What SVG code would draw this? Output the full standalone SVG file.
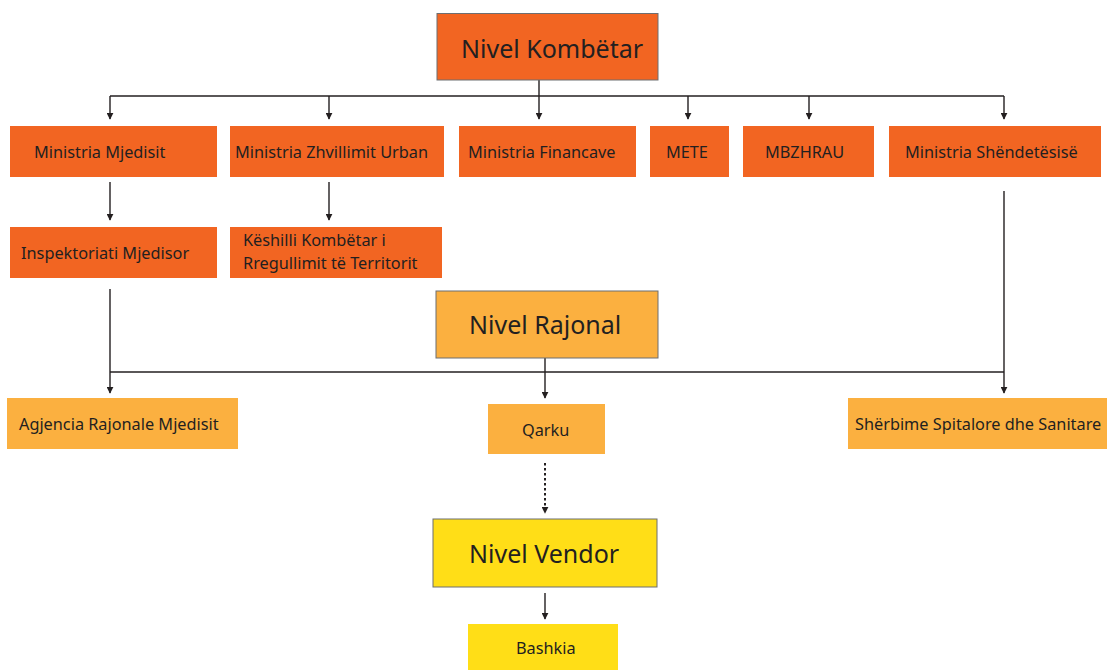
<svg xmlns="http://www.w3.org/2000/svg" width="1107" height="670" viewBox="0 0 1107 670">
<defs>
<marker id="ah" viewBox="0 0 10 10" refX="9" refY="5" markerWidth="7" markerHeight="7" markerUnits="userSpaceOnUse" orient="auto">
<path d="M0,0 L10,5 L0,10 z" fill="#231f20"/>
</marker>
<style>
.lvl{stroke:#6d6e71;stroke-width:1}
.o{fill:#f26522}
.lo{fill:#fbb040}
.y{fill:#ffde17}
.t{font-family:"Noto Sans","Open Sans",sans-serif;fill:#231f20;font-size:16.3px}
.big{font-family:"Noto Sans","Open Sans",sans-serif;fill:#231f20;font-size:25px}
.ln{stroke:#231f20;stroke-width:1.4;fill:none}
.ar{stroke:#231f20;stroke-width:1.4;fill:none;marker-end:url(#ah)}
.dot{stroke-dasharray:2.5,2.5;stroke-width:2}
</style>
</defs>
<rect width="1107" height="670" fill="#ffffff"/>
<g id="connectors">
<path class="ln" d="M110,96 H1004"/>
<path class="ar" d="M539,80 V119"/>
<path class="ar" d="M110,96 V119"/>
<path class="ar" d="M329,96 V119"/>
<path class="ar" d="M688,96 V119"/>
<path class="ar" d="M809,96 V119"/>
<path class="ar" d="M1004,96 V119"/>
<path class="ar" d="M110,182 V220"/>
<path class="ar" d="M329,182 V220"/>
<path class="ln" d="M110,372 H1004"/>
<path class="ar" d="M110,289 V393"/>
<path class="ar" d="M1004,191 V393"/>
<path class="ar" d="M545,358 V398"/>
<path class="ar dot" d="M545,463 V513"/>
<path class="ar" d="M545,593 V619"/>
</g>
<g id="nivel-kombetar"><rect class="o lvl" x="437" y="13.5" width="221" height="66.5"/><text class="big" x="461" y="58">Nivel Kombëtar</text></g>
<g id="ministria-mjedisit"><rect class="o" x="10" y="126" width="207" height="51"/><text class="t" x="34" y="158">Ministria Mjedisit</text></g>
<g id="ministria-zhvillimit"><rect class="o" x="230" y="126" width="214" height="51"/><text class="t" x="235" y="158">Ministria Zhvillimit Urban</text></g>
<g id="ministria-financave"><rect class="o" x="459" y="126" width="177" height="51"/><text class="t" x="468" y="158">Ministria Financave</text></g>
<g id="mete"><rect class="o" x="650" y="126" width="79" height="51"/><text class="t" x="666" y="158">METE</text></g>
<g id="mbzhrau"><rect class="o" x="743" y="126" width="131" height="51"/><text class="t" x="765" y="158">MBZHRAU</text></g>
<g id="ministria-shendetesise"><rect class="o" x="889" y="126" width="212" height="51"/><text class="t" x="905" y="158">Ministria Shëndetësisë</text></g>
<g id="inspektoriati"><rect class="o" x="10" y="227" width="207" height="51"/><text class="t" x="21" y="259">Inspektoriati Mjedisor</text></g>
<g id="keshilli"><rect class="o" x="230" y="227" width="212" height="51"/><text class="t" x="243" y="246">Këshilli Kombëtar i</text><text class="t" x="243" y="269">Rregullimit të Territorit</text></g>
<g id="nivel-rajonal"><rect class="lo lvl" x="436" y="291" width="222" height="67"/><text class="big" x="469" y="334">Nivel Rajonal</text></g>
<g id="agjencia"><rect class="lo" x="7" y="398" width="231" height="51"/><text class="t" x="19" y="430">Agjencia Rajonale Mjedisit</text></g>
<g id="qarku"><rect class="lo" x="488" y="404" width="117" height="50"/><text class="t" x="522" y="436">Qarku</text></g>
<g id="sherbime"><rect class="lo" x="848" y="398" width="265" height="51"/><text class="t" x="855" y="430">Shërbime Spitalore dhe Sanitare</text></g>
<g id="nivel-vendor"><rect class="y lvl" x="433" y="519" width="224" height="68"/><text class="big" x="469" y="563">Nivel Vendor</text></g>
<g id="bashkia"><rect class="y" x="468" y="624" width="150" height="50"/><text class="t" x="516" y="654">Bashkia</text></g>
</svg>
